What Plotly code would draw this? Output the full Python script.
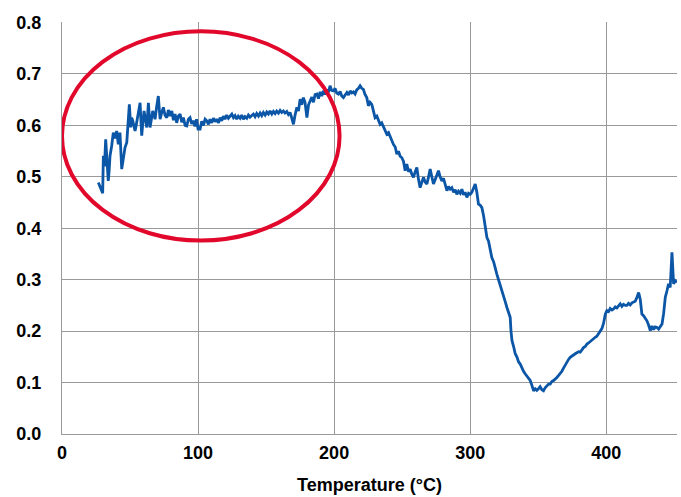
import plotly.graph_objects as go

temperature = [
    26.7, 28.0, 29.2, 29.9, 30.4, 31.2, 32.1, 33.0, 34.0, 34.6, 35.3, 36.5, 37.7, 38.9, 40.2, 41.4,
    42.6, 43.9, 45.0, 46.3, 47.6, 48.5, 49.5, 50.5, 51.2, 52.0, 53.7, 54.5, 55.4, 56.4, 57.4, 58.0,
    58.6, 59.4, 60.3, 61.3, 62.3, 63.5, 64.1, 64.7, 65.7, 66.7, 67.6, 68.4, 69.5, 70.8, 71.4, 72.1,
    73.3, 74.5, 75.7, 77.0, 78.2, 79.4, 80.7, 81.9, 83.1, 84.3, 85.5, 86.8, 88.0, 89.2, 90.5, 91.7,
    92.9, 94.1, 95.3, 96.5, 97.7, 98.9, 100.0, 101.5, 102.7, 104.0, 105.2, 106.4, 107.6, 108.8, 110.0,
    111.3, 112.5, 113.7, 115.0, 116.2, 117.4, 118.6, 119.8, 121.0, 122.3, 123.5, 124.8, 126.0, 127.2,
    128.4, 129.6, 130.9, 132.1, 133.3, 134.5, 135.8, 137.0, 138.2, 139.5, 140.7, 141.9, 143.1, 144.4,
    145.6, 146.8, 148.0, 149.3, 150.5, 151.7, 152.9, 154.2, 155.4, 156.6, 157.8, 159.1, 160.3, 161.5,
    162.7, 163.9, 165.2, 166.4, 167.6, 168.8, 170.1, 171.3, 172.6, 173.8, 175.0, 176.2, 177.4, 178.6,
    180.0, 181.2, 182.4, 183.6, 184.8, 186.0, 187.3, 188.5, 189.7, 190.9, 192.1, 193.3, 194.6, 195.8,
    197.0, 198.2, 199.5, 200.7, 201.9, 203.2, 204.4, 205.6, 206.8, 208.0, 209.4, 210.6, 211.8, 213.0,
    214.2, 215.4, 216.6, 217.9, 219.1, 220.3, 221.5, 222.7, 224.0, 225.2, 226.4, 227.7, 228.9, 230.1,
    231.4, 232.6, 233.8, 235.0, 236.3, 237.5, 238.7, 240.0, 241.2, 242.4, 243.6, 244.9, 246.1, 247.3,
    248.5, 249.8, 251.0, 252.2, 253.4, 254.7, 255.9, 257.1, 258.3, 259.6, 260.8, 262.0, 263.2, 264.5,
    265.7, 266.9, 268.2, 269.4, 270.6, 271.8, 273.0, 274.3, 275.5, 276.7, 277.9, 279.2, 280.4, 281.6,
    282.9, 284.1, 285.3, 286.5, 287.8, 289.0, 290.2, 291.4, 292.7, 293.9, 295.1, 296.3, 297.6, 298.8,
    300.0, 301.2, 302.5, 303.7, 304.9, 306.1, 307.3, 308.6, 309.8, 311.0, 312.3, 313.5, 314.7, 315.9,
    317.2, 318.4, 319.6, 320.8, 322.1, 323.3, 324.5, 325.7, 327.0, 328.2, 329.4, 330.0, 330.7, 331.9,
    333.1, 334.3, 335.6, 336.8, 338.0, 339.2, 340.4, 341.6, 342.9, 344.1, 345.3, 346.6, 347.8, 349.0,
    350.2, 351.4, 352.7, 353.9, 355.1, 356.3, 357.6, 358.8, 360.0, 361.3, 362.5, 363.7, 365.0, 366.2,
    367.4, 368.6, 369.9, 371.1, 372.3, 373.5, 374.8, 376.0, 377.2, 378.4, 379.7, 380.9, 382.1, 383.3,
    384.6, 385.8, 387.0, 388.2, 389.5, 390.7, 391.9, 393.1, 394.4, 395.6, 396.8, 398.0, 399.3, 400.5,
    401.7, 402.9, 404.2, 405.4, 406.6, 407.8, 409.1, 410.3, 411.5, 412.7, 414.0, 415.2, 416.4, 417.6,
    418.9, 420.1, 421.3, 422.5, 423.8, 425.0, 426.2, 427.4, 428.7, 429.9, 431.1, 432.4, 433.6, 434.8,
    436.0, 437.3, 438.5, 439.7, 441.0, 442.2, 443.4, 444.6, 445.8, 447.0, 448.3, 449.5, 450.7, 452.0,
]

value = [
    0.489, 0.480, 0.470, 0.468, 0.541, 0.520, 0.573, 0.540, 0.492, 0.510, 0.541, 0.560, 0.586, 0.575, 0.589, 0.563,
    0.586, 0.515, 0.540, 0.557, 0.567, 0.600, 0.641, 0.596, 0.615, 0.609, 0.589, 0.600, 0.615, 0.630, 0.644, 0.610,
    0.580, 0.605, 0.628, 0.612, 0.596, 0.644, 0.620, 0.596, 0.612, 0.628, 0.620, 0.612, 0.635, 0.657, 0.635, 0.612,
    0.625, 0.635, 0.620, 0.615, 0.630, 0.618, 0.628, 0.610, 0.622, 0.605, 0.618, 0.622, 0.606, 0.615, 0.600, 0.599,
    0.612, 0.615, 0.603, 0.609, 0.598, 0.612, 0.593, 0.593, 0.608, 0.600, 0.612, 0.609, 0.602, 0.612, 0.605,
    0.614, 0.607, 0.612, 0.605, 0.615, 0.609, 0.618, 0.612, 0.620, 0.614, 0.618, 0.622, 0.615, 0.619,
    0.612, 0.618, 0.614, 0.620, 0.612, 0.617, 0.614, 0.620, 0.616, 0.619, 0.622, 0.617, 0.623, 0.618,
    0.624, 0.619, 0.625, 0.620, 0.626, 0.622, 0.628, 0.622, 0.627, 0.623, 0.628, 0.624, 0.629, 0.625,
    0.628, 0.624, 0.627, 0.621, 0.625, 0.615, 0.602, 0.620, 0.635, 0.628, 0.651, 0.640, 0.654, 0.645,
    0.615, 0.640, 0.648, 0.655, 0.645, 0.660, 0.661, 0.652, 0.665, 0.657, 0.667, 0.660, 0.670, 0.664,
    0.677, 0.668, 0.667, 0.672, 0.663, 0.661, 0.666, 0.657, 0.654, 0.660, 0.664, 0.659, 0.667, 0.663,
    0.665, 0.661, 0.669, 0.672, 0.677, 0.672, 0.670, 0.660, 0.654, 0.638, 0.645, 0.641, 0.628, 0.615,
    0.618, 0.608, 0.602, 0.605, 0.596, 0.590, 0.583, 0.586, 0.578, 0.570, 0.563, 0.558, 0.544, 0.550,
    0.540, 0.537, 0.530, 0.512, 0.525, 0.510, 0.515, 0.505, 0.499, 0.510, 0.518, 0.495, 0.479, 0.490,
    0.499, 0.490, 0.486, 0.500, 0.515, 0.500, 0.486, 0.495, 0.505, 0.512, 0.500, 0.492, 0.497, 0.485,
    0.473, 0.481, 0.476, 0.479, 0.470, 0.475, 0.466, 0.472, 0.468, 0.476, 0.465, 0.470, 0.460, 0.468,
    0.466, 0.470, 0.478, 0.486, 0.470, 0.447, 0.445, 0.440, 0.425, 0.405, 0.382, 0.375, 0.358, 0.343,
    0.335, 0.320, 0.311, 0.300, 0.290, 0.279, 0.270, 0.258, 0.246, 0.238, 0.227, 0.200, 0.182, 0.170,
    0.156, 0.150, 0.140, 0.136, 0.128, 0.122, 0.117, 0.112, 0.107, 0.104, 0.095, 0.084, 0.088, 0.085,
    0.088, 0.092, 0.086, 0.084, 0.090, 0.094, 0.097, 0.097, 0.102, 0.104, 0.108, 0.110, 0.114, 0.117,
    0.122, 0.128, 0.135, 0.140, 0.145, 0.149, 0.152, 0.155, 0.156, 0.158, 0.160, 0.159, 0.164, 0.168,
    0.170, 0.175, 0.177, 0.180, 0.183, 0.185, 0.188, 0.190, 0.195, 0.201, 0.205, 0.215, 0.233, 0.240,
    0.238, 0.244, 0.241, 0.243, 0.247, 0.245, 0.250, 0.253, 0.248, 0.252, 0.250, 0.250, 0.254, 0.251,
    0.255, 0.256, 0.258, 0.265, 0.275, 0.262, 0.233, 0.230, 0.225, 0.220, 0.212, 0.201, 0.210, 0.203,
    0.208, 0.207, 0.204, 0.210, 0.214, 0.235, 0.266, 0.278, 0.292, 0.285, 0.353, 0.292, 0.298, 0.295,
]

x_ticks = [0, 100, 200, 300, 400]
y_ticks = [0.0, 0.1, 0.2, 0.3, 0.4, 0.5, 0.6, 0.7, 0.8]
y_tick_labels = ["0.0", "0.1", "0.2", "0.3", "0.4", "0.5", "0.6", "0.7", "0.8"]

# highlighted region (ellipse) bounds in data units
ellipse_x = [0, 204]
ellipse_y = [0.376, 0.783]

FONT = "Liberation Sans, Arial, Helvetica, sans-serif"
GRID = "#9a9a9a"

fig = go.Figure()
fig.add_trace(go.Scatter(
    x=temperature, y=value, mode="lines",
    line=dict(color="#0b56a6", width=2.8),
    hoverinfo="skip", showlegend=False,
))

fig.add_shape(
    type="circle", xref="x", yref="y",
    x0=ellipse_x[0], x1=ellipse_x[1], y0=ellipse_y[0], y1=ellipse_y[1],
    line=dict(color="#e1082c", width=4),
)

fig.update_layout(
    width=681, height=497,
    margin=dict(l=62, r=4, t=22, b=63),
    paper_bgcolor="white", plot_bgcolor="white",
    font=dict(family=FONT, color="black"),
)
fig.update_xaxes(
    range=[0, 452], tickvals=x_ticks, ticks="",
    showgrid=True, gridcolor=GRID, gridwidth=1.3,
    showline=True, linecolor=GRID, linewidth=1.3,
    zeroline=False, automargin=False,
    tickfont=dict(family=FONT, size=18, color="black", weight="bold"),
    ticklabelstandoff=2,
    title=dict(text="Temperature (°C)", standoff=16,
               font=dict(family=FONT, size=18, color="black", weight="bold")),
)
fig.update_yaxes(
    range=[0, 0.801], tickvals=y_ticks, ticktext=y_tick_labels, ticks="",
    showgrid=True, gridcolor=GRID, gridwidth=1.3,
    showline=True, linecolor=GRID, linewidth=1.3,
    zeroline=False, automargin=False,
    tickfont=dict(family=FONT, size=18, color="black", weight="bold"),
    ticklabelstandoff=16,
)

fig.write_html("out.html", config={"displayModeBar": False},
               post_script="document.body.style.margin='0';")
